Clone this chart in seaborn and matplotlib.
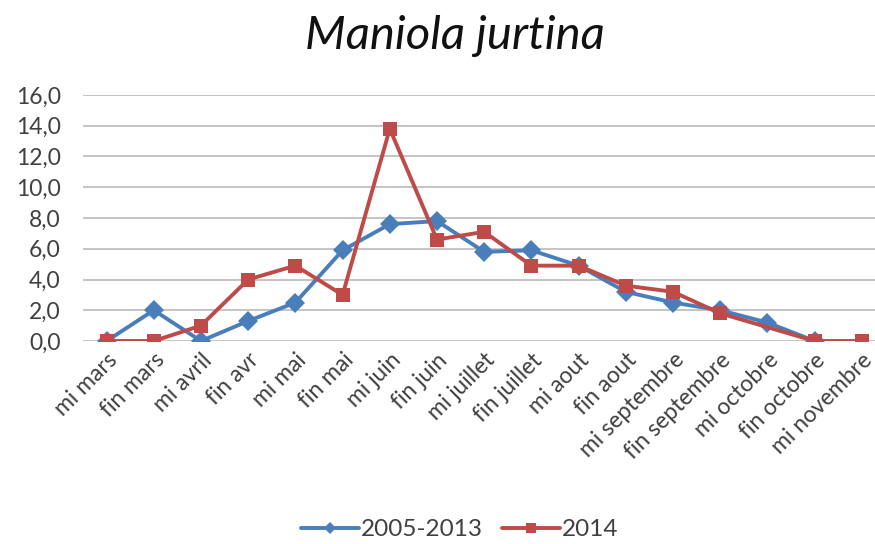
import numpy as np
import pandas as pd
import seaborn as sns
import matplotlib.pyplot as plt
from matplotlib.ticker import FuncFormatter

# Données
periodes = ['mi mars', 'fin mars', 'mi avril', 'fin avr', 'mi mai', 'fin mai',
            'mi juin', 'fin juin', 'mi juillet', 'fin juillet', 'mi aout', 'fin aout',
            'mi septembre', 'fin septembre', 'mi octobre', 'fin octobre', 'mi novembre']
serie_2005_2013 = [0.0, 2.0, 0.0, 1.3, 2.5, 5.9, 7.6, 7.8, 5.8, 5.9, 4.9, 3.2,
                   2.5, 2.0, 1.2, 0.0, np.nan]
serie_2014 = [0.0, 0.0, 1.0, 4.0, 4.9, 3.0, 13.8, 6.6, 7.1, 4.9, 4.9, 3.6,
              3.2, 1.8, np.nan, 0.0, 0.0]
noms_series = ['2005-2013', '2014']

n = len(periodes)
df = pd.DataFrame({
    'pos': list(range(n)) * 2,
    'valeur': serie_2005_2013 + serie_2014,
    'serie': [noms_series[0]] * n + [noms_series[1]] * n,
})
df = df.dropna()

sns.set_style('white')
plt.rcParams['font.family'] = ['Lato', 'DejaVu Sans']

fig = plt.figure(figsize=(8.75, 5.44), dpi=100)
ax = fig.add_axes([83 / 875, 1 - 341 / 544, 792 / 875, 246 / 544])

sns.lineplot(data=df, x='pos', y='valeur', hue='serie', style='serie',
             hue_order=noms_series, style_order=noms_series,
             palette={'2005-2013': '#4A7EBB', '2014': '#BE4B48'},
             markers={'2005-2013': 'D', '2014': 's'}, dashes=False,
             linewidth=2.8, markersize=10, markeredgewidth=0, sort=False, ax=ax)

ax.set_ylim(0, 16)
ax.set_yticks(np.arange(0, 17, 2))
ax.yaxis.set_major_formatter(FuncFormatter(lambda v, p: f'{v:.1f}'.replace('.', ',')))
ax.set_xlim(-0.5, 16.28)
ax.set_xticks(range(n))
ax.set_xticklabels(periodes, rotation=45, ha='right', rotation_mode='anchor', fontsize=16.5)
ax.tick_params(axis='y', labelsize=16.5, length=0, pad=16, colors='#404040')
ax.tick_params(axis='x', length=0, pad=6, colors='#404040')
ax.yaxis.grid(True, color='#BFBFBF', linewidth=1.3)
ax.set_axisbelow(True)
for s in ax.spines.values():
    s.set_visible(False)
ax.set_xlabel('')
ax.set_ylabel('')

fig.suptitle('Maniola jurtina', x=0.52, y=0.972, fontsize=34, style='italic', color='#111111')

leg = ax.legend(loc='center', bbox_to_anchor=(0.476, -0.768), ncol=2, frameon=False,
                fontsize=17.5, handlelength=2.35, columnspacing=0.8, handletextpad=0.1,
                markerscale=0.65, labelcolor='#404040')

fig.savefig('out.png', dpi=100)
